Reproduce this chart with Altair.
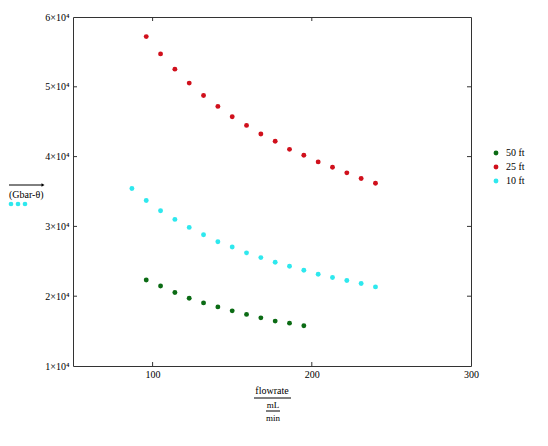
import altair as alt
import pandas as pd

# ---- data ----
x_50ft = [96, 105, 114, 123, 132, 141, 150, 159, 168, 177, 186, 195]
y_50ft = [22330, 21470, 20530, 19710, 19040, 18470, 17900, 17390, 16900, 16430, 16140, 15760]

x_25ft = [96, 105, 114, 123, 132, 141, 150, 159, 168, 177, 186, 195, 204, 213, 222, 231, 240]
y_25ft = [57190, 54710, 52530, 50530, 48760, 47190, 45710, 44470, 43240, 42190, 41040, 40190,
          39240, 38470, 37670, 36860, 36190]

x_10ft = [87, 96, 105, 114, 123, 132, 141, 150, 159, 168, 177, 186, 195, 204, 213, 222, 231, 240]
y_10ft = [35430, 33710, 32240, 31000, 29860, 28810, 27810, 27040, 26210, 25530, 24860, 24290,
          23710, 23140, 22670, 22240, 21810, 21330]

series_names = ["50 ft", "25 ft", "10 ft"]
series_colors = ["#0b6b14", "#d0101c", "#2ee8ee"]

x_ticks = [100, 200, 300]
y_ticks = [10000, 20000, 30000, 40000, 50000, 60000]
x_inner_ticks = [100, 200]
y_inner_ticks = [20000, 30000, 40000, 50000]

W, H = 398, 349
FONT = "Liberation Serif"

rows = []
for name, xs, ys in [("50 ft", x_50ft, y_50ft), ("25 ft", x_25ft, y_25ft), ("10 ft", x_10ft, y_10ft)]:
    for a, b in zip(xs, ys):
        rows.append({"flowrate": a, "Gbar": b, "series": name})
df = pd.DataFrame(rows)

xscale = alt.Scale(domain=[50, 300], zero=False, nice=False)
yscale = alt.Scale(domain=[10000, 60000], zero=False, nice=False)

points = alt.Chart(df).mark_circle(size=24, opacity=1).encode(
    x=alt.X("flowrate:Q", scale=xscale, title=None,
            axis=alt.Axis(values=x_ticks, labelFlush=False, labelOverlap=False,
                          labelPadding=3, format="d")),
    y=alt.Y("Gbar:Q", scale=yscale, title=None,
            axis=alt.Axis(values=y_ticks, labelFlush=False, labelOverlap=False, labelPadding=4,
                          labelExpr="format(datum.value / 10000, 'd') + '×10⁴'")),
    color=alt.Color("series:N",
                    scale=alt.Scale(domain=series_names, range=series_colors),
                    legend=alt.Legend(title=None, orient="none", legendX=418, legendY=131,
                                      symbolType="circle", symbolSize=24, symbolStrokeWidth=0,
                                      labelFont=FONT, labelFontSize=10, labelColor="black",
                                      rowPadding=4, labelOffset=5)),
)

# inward tick marks on all four sides
xt = pd.DataFrame({"v": x_inner_ticks})
yt = pd.DataFrame({"v": y_inner_ticks})
tick_color = "#333333"
xt_bottom = alt.Chart(xt).mark_rule(color=tick_color).encode(
    x=alt.X("v:Q", scale=xscale), y=alt.value(H - 4), y2=alt.value(H))
xt_top = alt.Chart(xt).mark_rule(color=tick_color).encode(
    x=alt.X("v:Q", scale=xscale), y=alt.value(0), y2=alt.value(4))
yt_left = alt.Chart(yt).mark_rule(color=tick_color).encode(
    y=alt.Y("v:Q", scale=yscale), x=alt.value(0), x2=alt.value(4))
yt_right = alt.Chart(yt).mark_rule(color=tick_color).encode(
    y=alt.Y("v:Q", scale=yscale), x=alt.value(W - 4), x2=alt.value(W))

one = pd.DataFrame({"a": [0]})

# y-axis title (Mathcad style): arrow, label, trace sample
arrow_line = alt.Chart(one).mark_rule(color="black", strokeWidth=1).encode(
    x=alt.value(-64), x2=alt.value(-30), y=alt.value(168))
arrow_head = alt.Chart(one).mark_point(shape="triangle-right", filled=True, color="black",
                                       size=12, opacity=1).encode(
    x=alt.value(-30), y=alt.value(168))
ytitle = alt.Chart(one).mark_text(text="(Gbar-θ)", font=FONT, fontSize=10, color="black",
                                   align="left", baseline="middle").encode(
    x=alt.value(-64), y=alt.value(178))
sample = pd.DataFrame({"px": [-62, -55, -48]})
ydots = alt.Chart(sample).mark_circle(size=22, color="#2ee8ee", opacity=1).encode(
    x=alt.X("px:Q", scale=None), y=alt.value(187))

# x-axis title: flowrate / (mL / min)
xt1 = alt.Chart(one).mark_text(text="flowrate", font=FONT, fontSize=10, color="black",
                               align="center", baseline="middle").encode(
    x=alt.value(199), y=alt.value(374))
bar1 = alt.Chart(one).mark_rule(color="black", strokeWidth=1).encode(
    x=alt.value(181), x2=alt.value(218), y=alt.value(381))
xt2 = alt.Chart(one).mark_text(text="mL", font=FONT, fontSize=9, color="black",
                               align="center", baseline="middle").encode(
    x=alt.value(200), y=alt.value(388))
bar2 = alt.Chart(one).mark_rule(color="black", strokeWidth=1).encode(
    x=alt.value(193), x2=alt.value(207), y=alt.value(394))
xt3 = alt.Chart(one).mark_text(text="min", font=FONT, fontSize=9, color="black",
                               align="center", baseline="middle").encode(
    x=alt.value(200), y=alt.value(401))

chart = alt.layer(
    points, xt_bottom, xt_top, yt_left, yt_right,
    arrow_line, arrow_head, ytitle, ydots,
    xt1, bar1, xt2, bar2, xt3,
).properties(
    width=W, height=H,
    autosize=alt.AutoSizeParams(type="none"),
    padding={"left": 65, "top": 9, "right": 60, "bottom": 60},
    background="white",
).configure_view(
    stroke="#333333", strokeWidth=1
).configure_axis(
    domain=False, ticks=False, grid=False,
    labelFont=FONT, labelFontSize=10, labelColor="black",
)

chart.save("out.html", embed_options={"renderer": "svg", "actions": False})
